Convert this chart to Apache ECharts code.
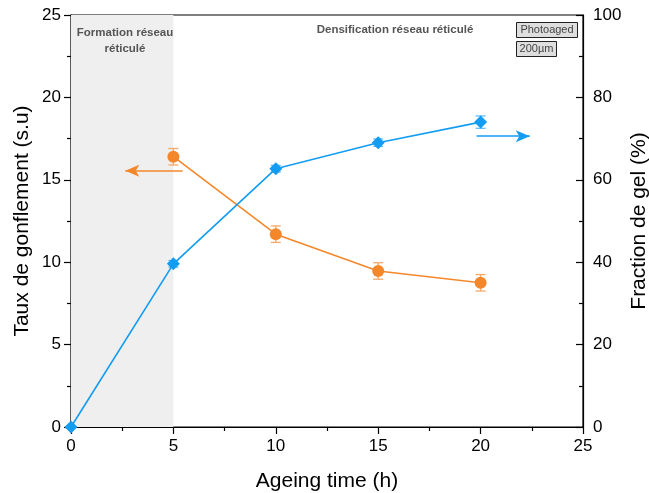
<!DOCTYPE html>
<html>
<head>
<meta charset="utf-8">
<script src="https://cdn.jsdelivr.net/npm/echarts@6/dist/echarts.min.js"></script>
<style>html,body{margin:0;padding:0;background:#fff}#c{width:649px;height:493px}</style>
</head>
<body>
<div id="c"></div>
<script>
var times = [0, 5, 10, 15, 20];
var swellTimes = [5, 10, 15, 20];
var swellMean = [16.4, 11.7, 9.47, 8.75];
var swellErr = [0.5, 0.5, 0.5, 0.5];
var gelMean = [0, 39.6, 62.7, 69.0, 74.0];
var gelErr = [0, 0.8, 0.8, 0.9, 1.5];
var xTicks = [0, 5, 10, 15, 20, 25];
var leftTicks = [0, 5, 10, 15, 20, 25];
var rightTicks = [0, 20, 40, 60, 80, 100];

var ORANGE = '#F5872B', ORANGE_L = '#F6A868';
var BLUE = '#129CF3', BLUE_L = '#62BDF6';
var FONT = 'Liberation Sans, Arial, sans-serif';

function errItem(color) {
  return function (params, api) {
    var x = api.value(0), lo = api.value(1), hi = api.value(2);
    var p1 = api.coord([x, lo]), p2 = api.coord([x, hi]);
    var w = 5;
    var st = { stroke: color, lineWidth: 1.3 };
    return { type: 'group', children: [
      { type: 'line', shape: { x1: p1[0], y1: p1[1], x2: p2[0], y2: p2[1] }, style: st },
      { type: 'line', shape: { x1: p1[0] - w, y1: p1[1], x2: p1[0] + w, y2: p1[1] }, style: st },
      { type: 'line', shape: { x1: p2[0] - w, y1: p2[1], x2: p2[0] + w, y2: p2[1] }, style: st }
    ]};
  };
}

var swellData = swellTimes.map(function (t, i) { return [t, swellMean[i]]; });
var gelData = times.map(function (t, i) { return [t, gelMean[i]]; });
var swellErrData = swellTimes.map(function (t, i) { return [t, swellMean[i] - swellErr[i], swellMean[i] + swellErr[i]]; });
var gelErrData = times.slice(1).map(function (t, j) { var i = j + 1; return [t, gelMean[i] - gelErr[i], gelMean[i] + gelErr[i]]; });

var chart = echarts.init(document.getElementById('c'), null, { renderer: 'canvas' });
var axisLbl = { color: '#000', fontSize: 17, fontFamily: FONT };
chart.setOption({
  animation: false,
  grid: { left: 71, right: 66, top: 15, bottom: 66, containLabel: false, outerBoundsMode: 'none', show: true, borderColor: '#000', borderWidth: 1.2, backgroundColor: 'transparent' },
  xAxis: {
    type: 'value', min: 0, max: 25, interval: 5,
    name: 'Ageing time (h)', nameLocation: 'middle', nameGap: 44, nameMoveOverlap: false,
    nameTextStyle: { color: '#000', fontSize: 21, fontFamily: FONT },
    axisLine: { show: true, lineStyle: { color: '#000', width: 1.2 } },
    axisTick: { show: true, length: 7, lineStyle: { color: '#000', width: 1.2 } },
    minorTick: { show: true, splitNumber: 2, length: 4, lineStyle: { color: '#000', width: 1.2 } },
    splitLine: { show: false },
    axisLabel: Object.assign({ margin: 11 }, axisLbl)
  },
  yAxis: [{
    type: 'value', min: 0, max: 25, interval: 5, position: 'left',
    name: 'Taux de gonflement (s.u)', nameLocation: 'middle', nameGap: 38, nameRotate: 90, nameMoveOverlap: false,
    nameTextStyle: { color: '#000', fontSize: 21, fontFamily: FONT },
    axisLine: { show: true, lineStyle: { color: '#000', width: 1.2 } },
    axisTick: { show: true, length: 7, lineStyle: { color: '#000', width: 1.2 } },
    minorTick: { show: true, splitNumber: 2, length: 4, lineStyle: { color: '#000', width: 1.2 } },
    splitLine: { show: false },
    axisLabel: Object.assign({ margin: 10 }, axisLbl)
  }, {
    type: 'value', min: 0, max: 100, interval: 20, position: 'right',
    name: 'Fraction de gel (%)', nameLocation: 'middle', nameGap: 46, nameRotate: 90, nameMoveOverlap: false,
    nameTextStyle: { color: '#000', fontSize: 21, fontFamily: FONT },
    axisLine: { show: true, lineStyle: { color: '#000', width: 1.2 } },
    axisTick: { show: true, inside: true, length: 7, lineStyle: { color: '#000', width: 1.2 } },
    minorTick: { show: true, splitNumber: 2, length: 4, lineStyle: { color: '#000', width: 1.2 } },
    splitLine: { show: false },
    axisLabel: Object.assign({ margin: 10 }, axisLbl)
  }],
  series: [
    {
      type: 'line', yAxisIndex: 0, data: [], silent: true, z: 0,
      markArea: { silent: true, itemStyle: { color: '#EFEFEF' }, data: [[{ xAxis: 0 }, { xAxis: 5 }]] }
    },
    {
      type: 'custom', yAxisIndex: 0, data: swellErrData, renderItem: errItem(ORANGE_L), z: 3, silent: true
    },
    {
      type: 'line', yAxisIndex: 0, data: swellData, symbol: 'circle', symbolSize: 12,
      lineStyle: { color: ORANGE, width: 1.6 }, itemStyle: { color: ORANGE }, z: 4, silent: true,
      markLine: {
        silent: true, symbol: ['none', 'arrow'], symbolSize: [9, 14], label: { show: false },
        lineStyle: { color: ORANGE, width: 1.6, type: 'solid' },
        data: [[{ coord: [5.45, 15.55] }, { coord: [2.65, 15.55] }]]
      }
    },
    {
      type: 'custom', yAxisIndex: 1, data: gelErrData, renderItem: errItem(BLUE_L), z: 3, silent: true
    },
    {
      type: 'line', yAxisIndex: 1, data: gelData, symbol: 'diamond', symbolSize: 13,
      lineStyle: { color: BLUE, width: 1.6 }, itemStyle: { color: BLUE }, z: 4, silent: true,
      markLine: {
        silent: true, symbol: ['none', 'arrow'], symbolSize: [9, 14], label: { show: false },
        lineStyle: { color: BLUE, width: 1.6, type: 'solid' },
        data: [[{ coord: [19.8, 70.6] }, { coord: [22.4, 70.6] }]]
      }
    }
  ],
  graphic: [
    { type: 'text', x: 125, y: 25, style: { text: 'Formation réseau\nréticulé', textAlign: 'center', fill: '#555', font: 'bold 11.5px ' + FONT, lineHeight: 16 }, z: 10 },
    { type: 'text', x: 395, y: 24, style: { text: 'Densification réseau réticulé', textAlign: 'center', fill: '#555', font: 'bold 11.5px ' + FONT }, z: 10 },
    { type: 'rect', shape: { x: 516.5, y: 22.5, width: 61, height: 15 }, style: { fill: '#DEDEDE', stroke: '#222', lineWidth: 1 }, z: 10 },
    { type: 'text', x: 547, y: 24, style: { text: 'Photoaged', textAlign: 'center', fill: '#444', font: '11px ' + FONT }, z: 11 },
    { type: 'rect', shape: { x: 516.5, y: 41.5, width: 40, height: 15 }, style: { fill: '#DEDEDE', stroke: '#222', lineWidth: 1 }, z: 10 },
    { type: 'text', x: 536.5, y: 43, style: { text: '200µm', textAlign: 'center', fill: '#444', font: '11px ' + FONT }, z: 11 }
  ]
});
</script>
</body>
</html>
